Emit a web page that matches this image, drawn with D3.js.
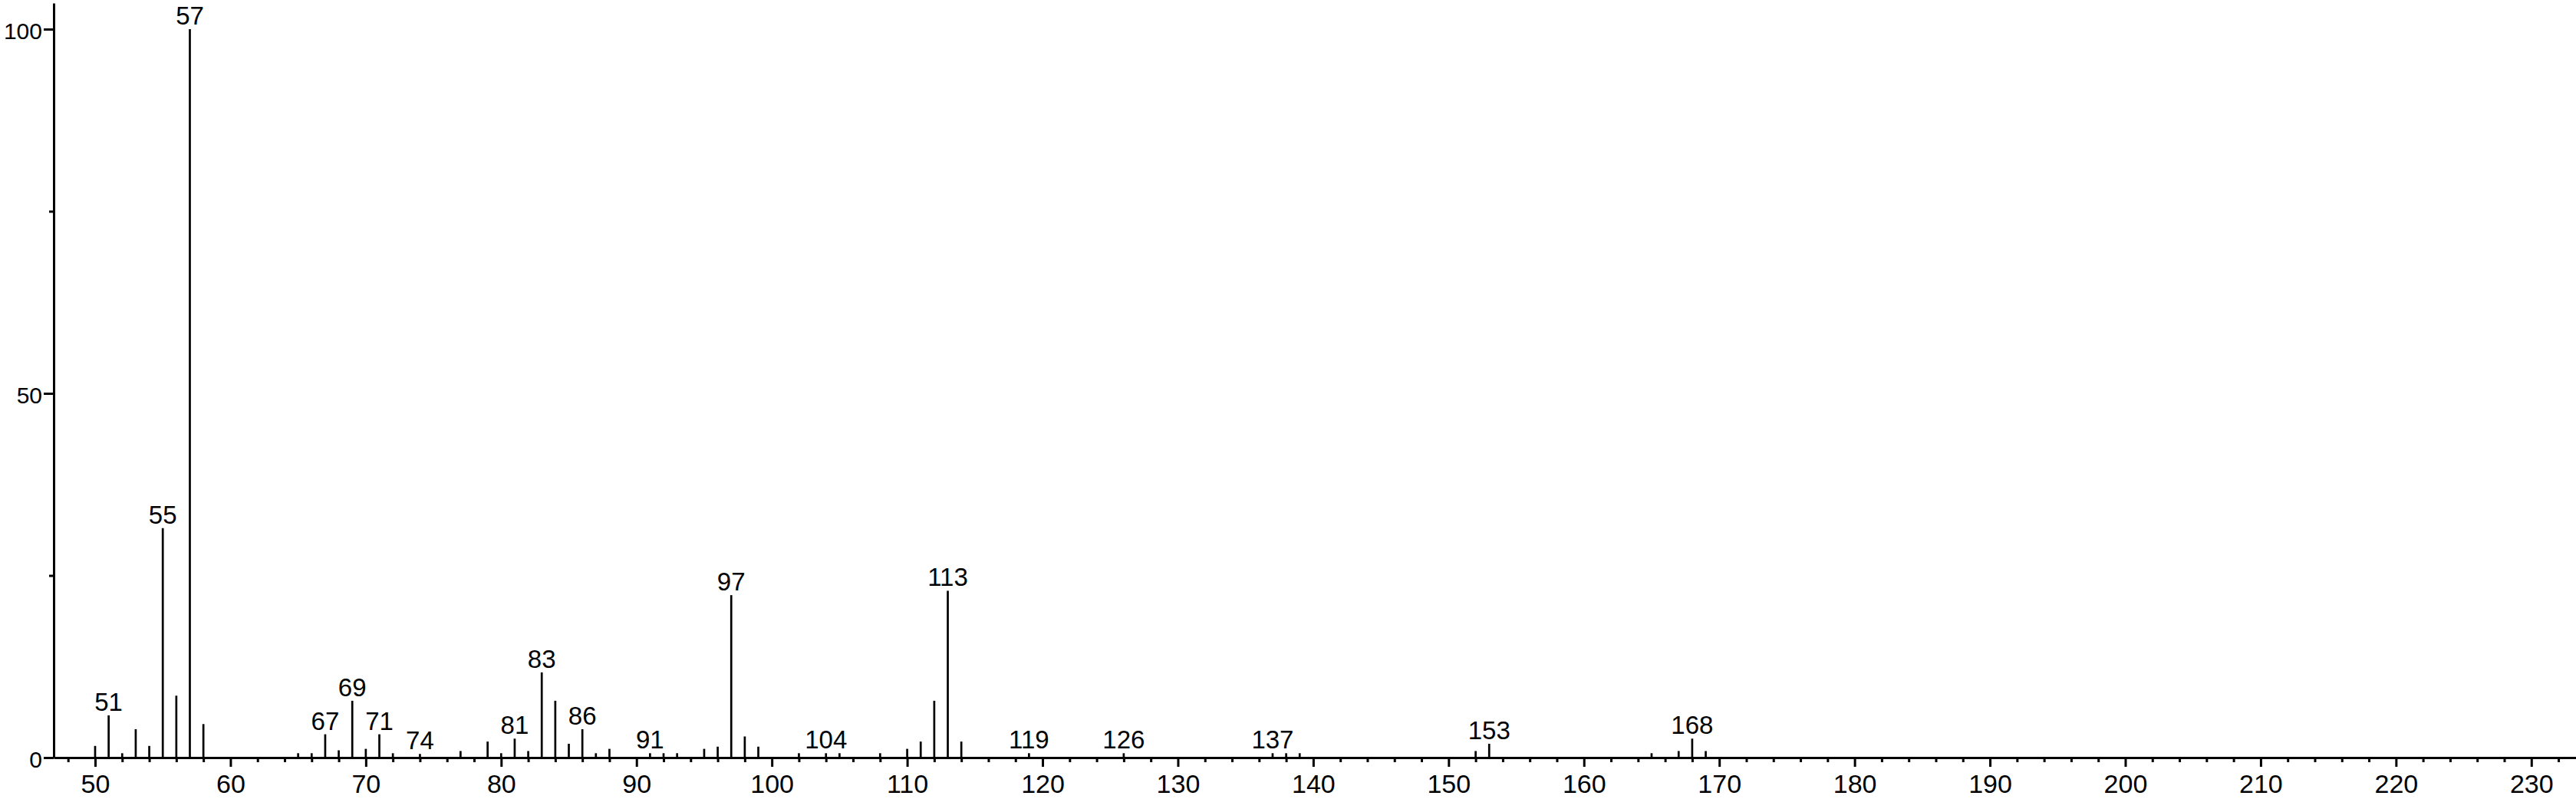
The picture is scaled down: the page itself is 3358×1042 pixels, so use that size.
<!DOCTYPE html>
<html>
<head>
<meta charset="utf-8">
<script src="https://cdn.jsdelivr.net/npm/d3@7"></script>
<style>
  html, body { margin: 0; padding: 0; background: #fff; }
  svg { display: block; }
  text { font-family: "Liberation Sans", Arial, sans-serif; fill: #000; }
</style>
</head>
<body>
<svg id="chart" width="3358" height="1042"></svg>
<script>
// m/z values of the peaks
const mz = [50,51,52,53,54,55,56,57,58,65,66,67,68,69,70,71,72,74,77,79,80,81,82,83,84,85,86,87,88,
            91,92,93,95,96,97,98,99,102,104,105,108,110,111,112,113,114,119,126,137,138,139,
            152,153,165,167,168,169];
// relative intensities (%)
const intensity = [1.6,5.8,0.6,3.9,1.6,31.5,8.5,100,4.6,0.6,0.6,3.2,1.0,7.8,1.2,3.2,0.6,0.5,0.9,2.2,0.6,2.6,0.9,11.7,7.8,1.9,3.9,0.6,1.2,
                   0.6,0.6,0.6,1.2,1.5,22.3,2.9,1.5,0.6,0.6,0.6,0.6,1.2,2.2,7.8,22.9,2.2,0.6,0.6,0.6,0.6,0.6,
                   0.9,1.9,0.6,0.9,2.6,0.9];
// peaks that carry an m/z label
const labeled = [51,55,57,67,69,71,74,81,83,86,91,97,104,113,119,126,137,153,168];
// axis ticks
const xMajorTicks = d3.range(50, 231, 10);
const xMinorTicks = d3.range(48, 233, 2).filter(v => v % 10 !== 0);
const yMajorTicks = [0, 50, 100];
const yMinorTicks = [25, 75];

const svg = d3.select("#chart");

const x = d3.scaleLinear().domain([46.94, 233.3]).range([70, 3358]);
const y = d3.scaleLinear().domain([0, 103.58]).range([988, 4]);

const data = mz.map((m, i) => ({ mz: m, v: intensity[i] }));

// x axis
const gx = svg.append("g").attr("transform", `translate(0,${y(0)})`);
gx.call(d3.axisBottom(x).tickValues(xMajorTicks).tickSizeInner(12).tickSizeOuter(0)
        .tickPadding(10).tickFormat(d3.format("d")));
gx.append("g").call(d3.axisBottom(x).tickValues(xMinorTicks).tickSizeInner(6).tickSizeOuter(0).tickFormat(""))
  .select(".domain").remove();
gx.selectAll(".domain").attr("stroke", "#000").attr("stroke-width", 3);
gx.selectAll(".tick line").attr("stroke", "#000").attr("stroke-width", 3);
gx.selectAll(".tick text").style("font-size", "34px").attr("fill", "#000")
  .style("font-family", "'Liberation Sans', Arial, sans-serif");

// y axis
const gy = svg.append("g").attr("transform", `translate(${x.range()[0]},0)`);
gy.call(d3.axisLeft(y).tickValues(yMajorTicks).tickSizeInner(13).tickSizeOuter(0)
        .tickPadding(2).tickFormat(d3.format("d")));
gy.append("g").call(d3.axisLeft(y).tickValues(yMinorTicks).tickSizeInner(6).tickSizeOuter(0).tickFormat(""))
  .select(".domain").remove();
gy.selectAll(".domain").attr("stroke", "#000").attr("stroke-width", 3);
gy.selectAll(".tick line").attr("stroke", "#000").attr("stroke-width", 3);
gy.selectAll(".tick text").style("font-size", "30px").attr("fill", "#000").attr("dy", "0.42em")
  .style("font-family", "'Liberation Sans', Arial, sans-serif");

// peaks
svg.append("g").selectAll("line").data(data).join("line")
  .attr("x1", d => x(d.mz)).attr("x2", d => x(d.mz))
  .attr("y1", y(0)).attr("y2", d => y(d.v))
  .attr("stroke", "#000").attr("stroke-width", 2.7);

// peak labels
svg.append("g").selectAll("text").data(data.filter(d => labeled.includes(d.mz))).join("text")
  .attr("x", d => x(d.mz)).attr("y", d => y(d.v) - 6)
  .attr("text-anchor", "middle")
  .style("font-size", "33px")
  .text(d => d.mz);
</script>
</body>
</html>
